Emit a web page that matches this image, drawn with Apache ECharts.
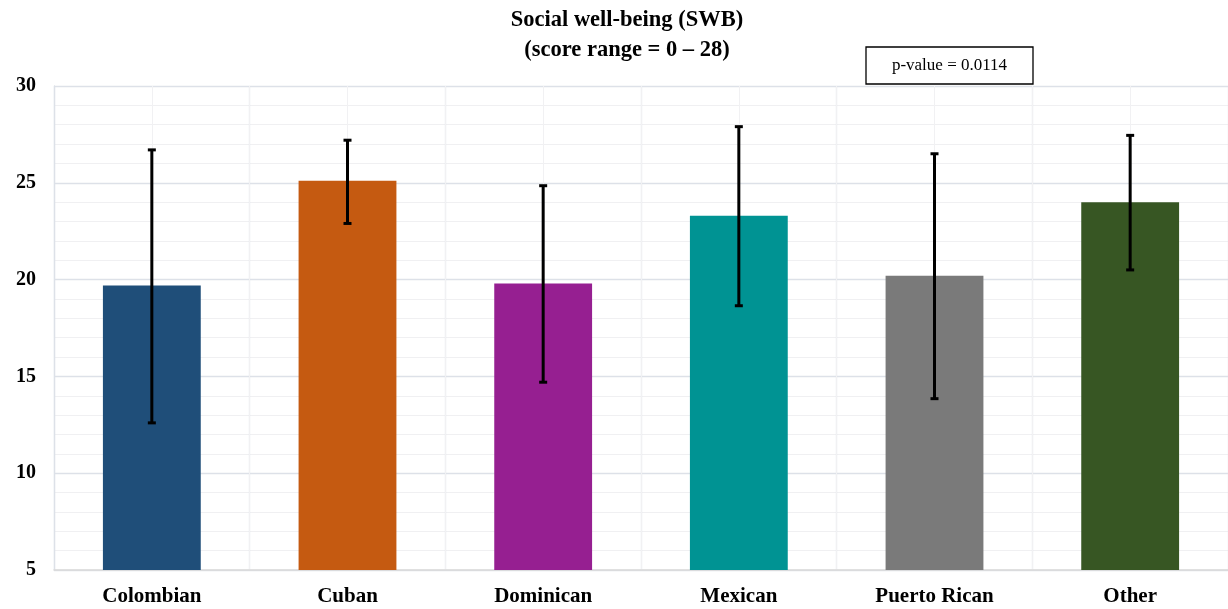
<!DOCTYPE html>
<html><head><meta charset="utf-8">
<script src="https://cdn.jsdelivr.net/npm/echarts@6/dist/echarts.min.js"></script>
<style>html,body{margin:0;padding:0;background:#fff}#c{width:1228px;height:609px}</style>
</head><body><div id="c"></div>
<script>
const categories = ['Colombian','Cuban','Dominican','Mexican','Puerto Rican','Other'];
const means = [19.7, 25.1, 19.8, 23.3, 20.2, 24.0];
const errLow = [12.6, 22.9, 14.7, 18.65, 13.85, 20.5];
const errHigh = [26.7, 27.2, 24.85, 27.9, 26.5, 27.45];
const colors = ['#1F4E79','#C55A11','#961F91','#009393','#7A7A7A','#375623'];
const yTicks = [5,10,15,20,25,30];

const chart = echarts.init(document.getElementById('c'));
const font = '"Liberation Serif","Times New Roman",serif';
chart.setOption({
  animation:false,
  grid:{left:54,right:-2,top:86,bottom:39},
  graphic:[
    {type:'text',x:627,y:5,style:{text:'Social well-being (SWB)\n(score range = 0 – 28)',font:'bold 22.5px '+font,fill:'#000',align:'center',lineHeight:30}},
    {type:'rect',shape:{x:866,y:47,width:167,height:37},style:{fill:'#fff',stroke:'#000',lineWidth:1.3}},
    {type:'text',x:949.5,y:66,style:{text:'p-value = 0.0114',font:'17px '+font,fill:'#000',align:'center',verticalAlign:'middle'}}
  ],
  xAxis:[{
    type:'category',data:categories,
    axisLine:{lineStyle:{color:'#D9D9D9',width:1.5}},
    axisTick:{show:false},
    axisLabel:{color:'#000',fontFamily:font,fontWeight:'bold',fontSize:21,margin:16},
    splitLine:{show:true,lineStyle:{color:'#DDE1E8',width:1.3}}
  },{
    type:'value',min:0,max:6,interval:0.5,show:true,position:'top',
    axisLine:{show:false},axisTick:{show:false},axisLabel:{show:false},
    splitLine:{show:true,lineStyle:{color:'#F1F1F3',width:1}}
  }],
  yAxis:{
    type:'value',min:5,max:30,interval:5,
    axisLine:{show:true,lineStyle:{color:'#DDE1E8',width:1.3}},
    axisTick:{show:false},
    axisLabel:{color:'#000',fontFamily:font,fontWeight:'bold',fontSize:20,margin:18},
    splitLine:{lineStyle:{color:'#DDE1E8',width:1.3}},
    minorTick:{show:false,splitNumber:5},
    minorSplitLine:{show:true,lineStyle:{color:'#F0F0F2',width:1}}
  },
  series:[{
    type:'bar',barWidth:'50%',
    data:means.map((v,i)=>({value:v,itemStyle:{color:colors[i]}})),
    z:2
  },{
    type:'custom',z:5,
    data:categories.map((c,i)=>[i,errLow[i],errHigh[i]]),
    renderItem:function(params,api){
      const x=api.coord([api.value(0),api.value(1)])[0];
      const lo=api.coord([api.value(0),api.value(1)])[1];
      const hi=api.coord([api.value(0),api.value(2)])[1];
      const hw=4;
      const st={stroke:'#000',lineWidth:3};
      return {type:'group',children:[
        {type:'line',shape:{x1:x,y1:lo,x2:x,y2:hi},style:st},
        {type:'line',shape:{x1:x-hw,y1:lo,x2:x+hw,y2:lo},style:st},
        {type:'line',shape:{x1:x-hw,y1:hi,x2:x+hw,y2:hi},style:st}
      ]};
    }
  }]
});
</script></body></html>
